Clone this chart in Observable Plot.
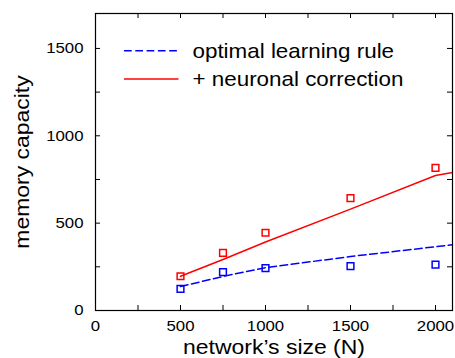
<!DOCTYPE html>
<html><head><meta charset="utf-8">
<script src="https://cdn.jsdelivr.net/npm/d3@7"></script>
<script src="https://cdn.jsdelivr.net/npm/@observablehq/plot@0.6"></script>
<style>
body{margin:0;background:#fff;}
#wrap{position:relative;width:455px;height:358px;}
#wrap svg{display:block;}
#legend{position:absolute;left:0;top:0;pointer-events:none;}
</style></head><body><div id="wrap"></div>
<script>
// simulation points (squares)
const networkSizes = [500, 750, 1000, 1500, 2000];
const optimalSim = [124, 219, 242, 254, 262];
const correctedSim = [196, 330, 445, 643, 817];
// theory curves
const curveSizes = [500, 750, 1000, 1500, 2000, 2100];
const optimalTheory = [137, 195, 245, 309, 365, 376];
const correctedTheory = [196, 292, 392, 580, 773, 790];
// axes
const xTickValues = [0, 250, 500, 750, 1000, 1250, 1500, 1750, 2000];
const xTickLabels = [0, 500, 1000, 1500, 2000];
const yTickValues = [0, 250, 500, 750, 1000, 1250, 1500];
const yTickLabels = [0, 500, 1000, 1500];
const xLabel = "network’s size (N)";
const yLabel = "memory capacity";
// legend
const legendLabels = ["optimal learning rule", "+ neuronal correction"];
const legendColors = ["#0000ff", "#ff0000"];
const legendDashes = ["7.7,3.6", null];

const FONT = '"Liberation Sans", Arial, Helvetica, sans-serif';
const W = 455, H = 358, mL = 95, mR = 3, mT = 13, mB = 48;
const plotW = W - mL - mR, plotH = H - mT - mB, tick = 5;
const TEXT_STRETCH = 1.12;

const optPts = networkSizes.map((N, i) => ({N, value: optimalSim[i]}));
const corPts = networkSizes.map((N, i) => ({N, value: correctedSim[i]}));
const optCurve = curveSizes.map((N, i) => ({N, value: optimalTheory[i]}));
const corCurve = curveSizes.map((N, i) => ({N, value: correctedTheory[i]}));

const chart = Plot.plot({
  width: W, height: H,
  marginLeft: mL, marginRight: mR, marginTop: mT, marginBottom: mB,
  style: {fontFamily: FONT, fontSize: "15px", color: "#000", background: "#fff", overflow: "visible"},
  x: {domain: [0, 2100]},
  y: {domain: [0, 1700]},
  marks: [
    Plot.line(optCurve, {x: "N", y: "value", stroke: legendColors[0], strokeWidth: 1.5, strokeDasharray: legendDashes[0]}),
    Plot.line(corCurve, {x: "N", y: "value", stroke: legendColors[1], strokeWidth: 1.5}),
    Plot.dot(optPts, {x: "N", y: "value", symbol: "square", r: 3.8, stroke: legendColors[0], fill: "none", strokeWidth: 1.5}),
    Plot.dot(corPts, {x: "N", y: "value", symbol: "square", r: 3.8, stroke: legendColors[1], fill: "none", strokeWidth: 1.5}),
    Plot.tickX(xTickValues, {x: d => d, insetTop: plotH - tick, stroke: "#000"}),
    Plot.tickX(xTickValues, {x: d => d, insetBottom: plotH - tick, stroke: "#000"}),
    Plot.tickY(yTickValues, {y: d => d, insetRight: plotW - tick, stroke: "#000"}),
    Plot.tickY(yTickValues, {y: d => d, insetLeft: plotW - tick, stroke: "#000"}),
    Plot.axisX(xTickLabels, {tickSize: 0, tickPadding: 10, label: null, fontSize: 15, tickFormat: d => String(d)}),
    Plot.axisY(yTickLabels, {tickSize: 0, tickPadding: 12, label: null, fontSize: 15, tickFormat: d => String(d)}),
    Plot.frame({stroke: "#000", strokeWidth: 1.2}),
    Plot.text([xLabel], {text: d => d, frameAnchor: "bottom", textAnchor: "middle", lineAnchor: "middle", dy: 37, fontSize: 20.5}),
    Plot.text([yLabel], {text: d => d, frameAnchor: "left", textAnchor: "middle", lineAnchor: "middle", rotate: -90, dx: -73, fontSize: 20.5})
  ]
});

const wrap = document.getElementById("wrap");
wrap.appendChild(chart);

// legend overlay (inside the plot frame, as in the reference)
const leg = d3.select(wrap).append("svg").attr("id", "legend")
  .attr("width", W).attr("height", H)
  .style("font-family", FONT);
legendLabels.forEach((lab, i) => {
  const yLine = 50.7 + i * 28.3;
  leg.append("line").attr("x1", 124).attr("x2", 178.5).attr("y1", yLine).attr("y2", yLine)
    .attr("stroke", legendColors[i]).attr("stroke-width", 1.5)
    .attr("stroke-dasharray", legendDashes[i]);
  leg.append("text").attr("x", 192.5).attr("y", yLine + 7).attr("font-size", 20)
    .attr("fill", "#000").text(lab);
});

// slight horizontal stretch of all text, as in the reference rendering
d3.select(wrap).selectAll("text").each(function() {
  const el = this;
  const x = parseFloat(el.getAttribute("x")) || 0;
  const t = el.getAttribute("transform") || "";
  el.setAttribute("transform", `${t} translate(${x},0) scale(${TEXT_STRETCH},1) translate(${-x},0)`);
});
</script></body></html>
